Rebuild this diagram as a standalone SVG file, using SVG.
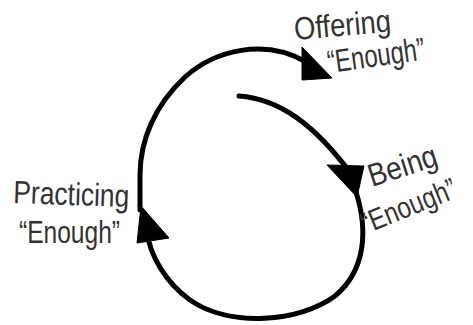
<svg xmlns="http://www.w3.org/2000/svg" width="473" height="325" viewBox="0 0 473 325">
  <style>
    .line { fill: none; stroke: #000; stroke-width: 5; stroke-linecap: round; }
    .head { fill: #000; stroke: #000; stroke-width: 1; stroke-linejoin: miter; }
    .lbl { font-family: "Liberation Sans", Arial, sans-serif; font-size: 32px; fill: #333333; }
  </style>
  <rect width="473" height="325" fill="#ffffff"/>
  <g id="connectors">
    <path class="line" d="M140 210 L140 175 C140 140,155 105,185 77 C215 50,265 38,306 62"/>
    <polygon class="head" points="302,47 302,80 332,78"/>
    <path class="line" d="M239 96 C280 99,315 125,352 175"/>
    <polygon class="head" points="327,165 364,166 357,197"/>
    <path class="line" d="M356 192 C368 230,366 270,335 296 C300 322,230 328,190 300 C165 282,150 255,147 232"/>
    <polygon class="head" points="141,206 137,243 169,238"/>
  </g>
  <g id="offering">
    <text class="lbl" x="295" y="40" transform="rotate(-5 295 40)" textLength="97" lengthAdjust="spacingAndGlyphs">Offering</text>
    <text class="lbl" x="329" y="73" transform="rotate(-8 329 73)" textLength="98" lengthAdjust="spacingAndGlyphs">“Enough”</text>
  </g>
  <g id="being">
    <text class="lbl" x="372" y="187" transform="rotate(-18 372 187)" textLength="71" lengthAdjust="spacingAndGlyphs">Being</text>
    <text class="lbl" x="366" y="234" transform="rotate(-22 366 234)" textLength="100" lengthAdjust="spacingAndGlyphs" style="font-size:30px">“Enough”</text>
  </g>
  <g id="practicing">
    <text class="lbl" x="13" y="203" transform="rotate(2 13 203)" textLength="116" lengthAdjust="spacingAndGlyphs">Practicing</text>
    <text class="lbl" x="19" y="243" textLength="101" lengthAdjust="spacingAndGlyphs">“Enough”</text>
  </g>
</svg>
